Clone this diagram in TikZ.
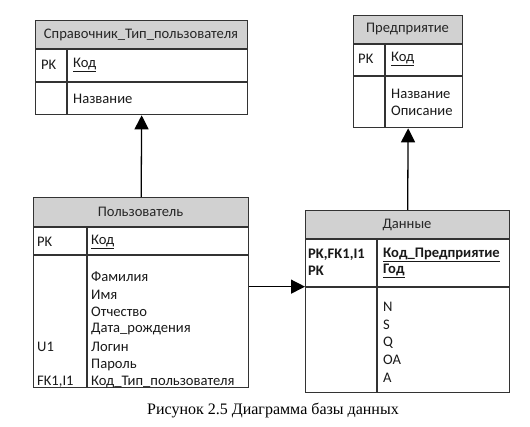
\documentclass[tikz,border=0pt]{standalone}
\usepackage{fontspec}
\setmainfont{Carlito}
\newfontfamily\capfont{Liberation Serif}
\usetikzlibrary{arrows.meta}

\begin{document}
\begin{tikzpicture}[x=1pt,y=-1pt,
  tbl/.style={draw=black!80,line width=1.3pt,anchor=north west,inner sep=0pt},
  hdr/.style={fill=black!18},
  fld/.style={anchor=west,inner sep=0pt,text=black!90,font=\fontsize{14.6}{17}\selectfont},
  head/.style={inner sep=0pt,text=black!85,font=\fontsize{14.6}{17}\selectfont},
  link/.style={line width=1.3pt,-{Triangle[length=14pt,width=14pt]}}]
\useasboundingbox (0,0) rectangle (530,427);
% Справочник_Тип_пользователя
\fill[hdr] (35,20) rectangle (247,49);
\node[tbl,minimum width=212pt,minimum height=94pt] (sprav) at (35,20) {};
\draw[black!80,line width=1.3pt] (35,49) -- (247,49) (35,82) -- (247,82) (67,49) -- (67,114);
\node[head] (spravh) at (141,34.5) {Справочник\_Тип\_пользователя};
\node[fld] (spravpk) at (41,65) {PK};
\node[fld] (spravkod) at (73,65) {\underline{Код}};
\node[fld] (spravname) at (73,99) {Название};
% Предприятие
\fill[hdr] (353,15) rectangle (462,44);
\node[tbl,minimum width=109pt,minimum height=112pt] (pred) at (353,15) {};
\draw[black!80,line width=1.3pt] (353,44) -- (462,44) (353,76) -- (462,76) (385,44) -- (385,127);
\node[head] (predh) at (407.5,29.5) {Предприятие};
\node[fld] (predpk) at (358,59) {PK};
\node[fld] (predkod) at (391,59) {\underline{Код}};
\foreach \txt/\ypos in {Название/94,Описание/111}
  {\node[fld] (pred\ypos) at (391,\ypos) {\txt};}
% Пользователь
\fill[hdr] (33,197) rectangle (248,227);
\node[tbl,minimum width=215pt,minimum height=190pt] (polz) at (33,197) {};
\draw[black!80,line width=1.3pt] (33,227) -- (248,227) (33,255) -- (248,255) (87,227) -- (87,387);
\node[head] (polzh) at (140.5,212) {Пользователь};
\node[fld] (polzpk) at (37,242) {PK};
\node[fld] (polzkod) at (91,242) {\underline{Код}};
\foreach \txt/\ypos in {Фамилия/277,Имя/294.5,Отчество/312,Дата\_рождения/329.5,Логин/347,Пароль/364.5,Код\_Тип\_пользователя/382}
  {\node[fld] (polz\ypos) at (91,\ypos) {\txt};}
\node[fld] (polzu) at (37,347) {U1};
\node[fld] (polzfk) at (37,382) {FK1,I1};
% Данные
\fill[hdr] (305,210) rectangle (509,239);
\node[tbl,minimum width=204pt,minimum height=182pt] (dan) at (305,210) {};
\draw[black!80,line width=1.3pt] (305,239) -- (509,239) (305,287) -- (509,287) (377,239) -- (377,392);
\node[head] (danh) at (407,224.5) {Данные};
\node[fld,font=\fontsize{14.6}{17}\selectfont\bfseries] (danpk) at (308,255) {PK,FK1,I1};
\node[fld,font=\fontsize{14.6}{17}\selectfont\bfseries] (danpk2) at (308,271) {PK};
\node[fld,font=\fontsize{14.6}{17}\selectfont\bfseries] (dankod) at (383,255) {\underline{Код\_Предприятие}};
\node[fld,font=\fontsize{14.6}{17}\selectfont\bfseries] (dangod) at (383,271) {\underline{Год}};
\foreach \txt/\ypos in {N/307,S/325,Q/343,OA/360,A/378}
  {\node[fld] (dan\txt) at (383,\ypos) {\txt};}
% связи
\draw[link] (polz.north) -- (sprav.south);
\draw[link] (dan.north) -- (pred.south);
\draw[link] ([yshift=6pt]polz.east) -- ([yshift=15pt]dan.west);
% подпись
\node[font=\capfont\fontsize{16}{18}\selectfont] (cap) at (273,410) {Рисунок 2.5 Диаграмма базы данных};
\end{tikzpicture}
\end{document}
